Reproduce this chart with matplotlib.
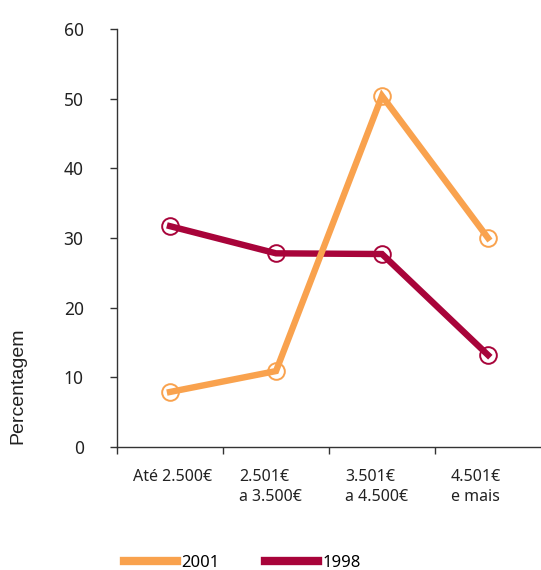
import matplotlib
matplotlib.use("Agg")
import matplotlib.pyplot as plt
from matplotlib.lines import Line2D
from matplotlib.transforms import ScaledTranslation

categories = ["Até 2.500€", "2.501€\na 3.500€", "3.501€\na 4.500€", "4.501€\ne mais"]
series_2001 = [7.9, 10.9, 50.4, 30.0]
series_1998 = [31.7, 27.8, 27.7, 13.2]
yticks = [0, 10, 20, 30, 40, 50, 60]
legend_labels = ["2001", "1998"]

c2001 = "#F9A24E"
c1998 = "#A8043A"
axis_col = "#333333"
txt_col = "#222222"
font = "Noto Sans"

fig = plt.figure(figsize=(5.41, 5.70), dpi=100)
ax = fig.add_axes([117/541, 1-447/570, 1-117/541, (447-29)/570])

x = list(range(len(categories)))
ax.plot(x, series_1998, color=c1998, lw=4.6, marker="o", ms=12, mfc="none",
        mec=c1998, mew=1.4, solid_joinstyle="miter", zorder=2, clip_on=False)
ax.plot(x, series_2001, color=c2001, lw=4.6, marker="o", ms=12, mfc="none",
        mec=c2001, mew=1.4, solid_joinstyle="miter", zorder=3, clip_on=False)

ax.set_xlim(-0.5, 3.5)
ax.set_ylim(0, 60)
for s in ["top", "right"]:
    ax.spines[s].set_visible(False)
for s in ["left", "bottom"]:
    ax.spines[s].set_color(axis_col)
    ax.spines[s].set_linewidth(1.0)

ax.set_yticks(yticks)
ax.set_yticklabels([str(v) for v in yticks], fontfamily=font, fontsize=12.5, color=txt_col)
ax.tick_params(axis="y", direction="out", length=5, width=1, color=axis_col, pad=19)

bounds = [i - 0.5 for i in x]
ax.set_xticks(bounds)
ax.set_xticklabels(categories, fontfamily=font, fontsize=11.5, color=txt_col,
                   ha="left", multialignment="left", linespacing=1.3)
ax.tick_params(axis="x", direction="out", length=5, width=1, color=axis_col, pad=11)
off = ScaledTranslation(16/100, 0, fig.dpi_scale_trans)
for lab in ax.get_xticklabels():
    lab.set_transform(lab.get_transform() + off)

fig.text(18/541, 1-386/570, "Percentagem", rotation=90, ha="center", va="center",
         fontfamily="Liberation Sans", fontsize=14, color=txt_col)

handles = [Line2D([], [], color=c2001, lw=6), Line2D([], [], color=c1998, lw=6)]
fig.legend(handles, legend_labels, loc="center left", bbox_to_anchor=(109/541, 1-563/570),
           ncol=2, frameon=False, handlelength=3.2, handletextpad=0.25, columnspacing=2.7,
           prop={"family": font, "size": 12})

fig.savefig("out.png", dpi=100)
